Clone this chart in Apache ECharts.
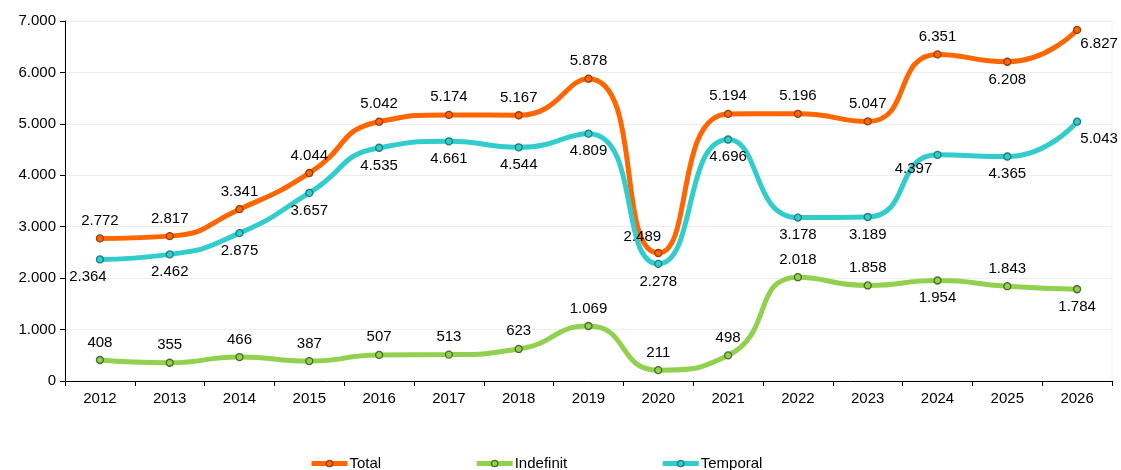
<!DOCTYPE html>
<html>
<head>
<meta charset="utf-8">
<script src="https://cdn.jsdelivr.net/npm/echarts@6/dist/echarts.min.js"></script>
<style>
  html, body { margin: 0; padding: 0; background: #fff; }
  #chart { width: 1121px; height: 470px; }
</style>
</head>
<body>
<div id="chart"></div>
<script>
// datos
const years = ['2012', '2013', '2014', '2015', '2016', '2017', '2018', '2019', '2020', '2021', '2022', '2023', '2024', '2025', '2026']
const total = [2772, 2817, 3341, 4044, 5042, 5174, 5167, 5878, 2489, 5194, 5196, 5047, 6351, 6208, 6827]
const indefinit = [408, 355, 466, 387, 507, 513, 623, 1069, 211, 498, 2018, 1858, 1954, 1843, 1784]
const temporal = [2364, 2462, 2875, 3657, 4535, 4661, 4544, 4809, 2278, 4696, 3178, 3189, 4397, 4365, 5043]

const fmt = v => String(v).replace(/\B(?=(\d{3})+(?!\d))/g, '.')
const font = 'Arial, "Liberation Sans", sans-serif'

// posicion de etiqueta por punto
function points(values, pos) {
  return values.map((v, i) => {
    const p = pos[i] || ['top', [0, 0]]
    return { value: v, label: { position: p[0], offset: p[1] } }
  })
}

const totalPos = {
  8: ['top', [-16, 2]],
  13: ['bottom', [0, 0]],
  14: ['bottom', [22, -4]]
}
const temporalPos = {}
for (let i = 0; i < 15; i++) temporalPos[i] = ['bottom', [0, 0]]
temporalPos[0] = ['bottom', [-12, 0]]
temporalPos[12] = ['bottom', [-24, -4]]
temporalPos[14] = ['bottom', [22, 0]]
const indefPos = {
  12: ['bottom', [0, 0]],
  14: ['bottom', [0, 0]]
}

function lineSeries(name, data, color, border) {
  return {
    name: name,
    type: 'line',
    smooth: 0.55,
    data: data,
    symbol: 'circle',
    symbolSize: 7,
    color: color,
    lineStyle: { width: 5, color: color },
    itemStyle: { color: color, borderColor: border, borderWidth: 1.3 },
    label: {
      show: true,
      color: '#000',
      fontSize: 15,
      fontFamily: font,
      distance: 6,
      formatter: p => fmt(p.value)
    },
    emphasis: { disabled: true }
  }
}

const chart = echarts.init(document.getElementById('chart'))
chart.setOption({
  animation: false,
  textStyle: { fontFamily: font },
  grid: { left: 65, right: 9, top: 21, bottom: 89, show: true, borderColor: '#eeeeee', borderWidth: 1 },
  legend: {
    bottom: -6,
    left: 304,
    itemGap: 93,
    itemWidth: 36,
    itemHeight: 8,
    lineStyle: { width: 5 },
    itemStyle: { borderWidth: 1.3 },
    textStyle: { color: '#000', fontSize: 15, fontFamily: font, padding: [0, 0, 0, -3] },
    data: ['Total', 'Indefinit', 'Temporal']
  },
  xAxis: {
    type: 'category',
    data: years,
    boundaryGap: true,
    axisLine: { lineStyle: { color: '#000', width: 1 } },
    axisTick: { show: true, length: 5, lineStyle: { color: '#000' } },
    axisLabel: { color: '#000', fontSize: 15, fontFamily: font, margin: 10 },
    splitLine: { show: false }
  },
  yAxis: {
    type: 'value',
    min: 0,
    max: 7000,
    interval: 1000,
    axisLine: { show: true, lineStyle: { color: '#000', width: 1 } },
    axisTick: { show: true, length: 5, lineStyle: { color: '#000' } },
    axisLabel: { color: '#000', fontSize: 15, fontFamily: font, margin: 9, formatter: v => fmt(v) },
    splitLine: { show: true, lineStyle: { color: '#eeeeee', width: 1 } }
  },
  series: [
    lineSeries('Total', points(total, totalPos), '#ff6600', '#9a3d00'),
    lineSeries('Indefinit', points(indefinit, indefPos), '#92d050', '#4f6a28'),
    lineSeries('Temporal', points(temporal, temporalPos), '#33cccc', '#1a7f7f')
  ]
})
</script>
</body>
</html>
